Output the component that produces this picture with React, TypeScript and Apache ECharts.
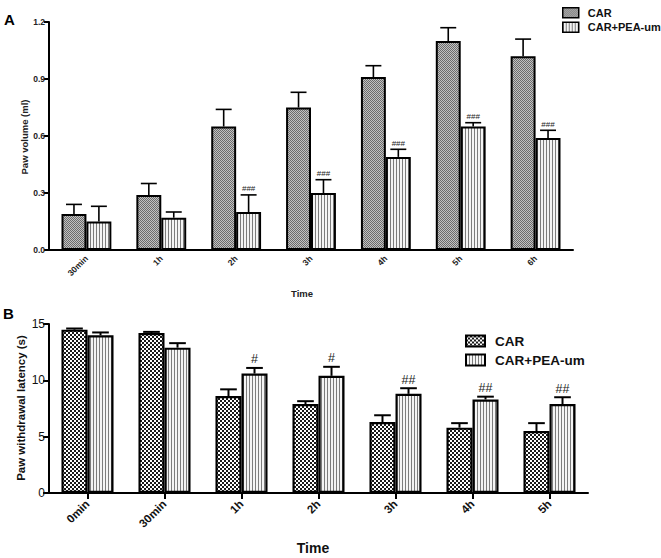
import React, { useEffect, useRef } from 'react';
import * as echarts from 'echarts';

// ---------- Data ----------
const categoriesA = ['30min', '1h', '2h', '3h', '4h', '5h', '6h'];
const carA = [0.19, 0.29, 0.65, 0.75, 0.91, 1.1, 1.02];
const carAErr = [0.05, 0.06, 0.09, 0.08, 0.06, 0.07, 0.09];
const peaA = [0.15, 0.17, 0.2, 0.3, 0.49, 0.65, 0.59];
const peaAErr = [0.08, 0.03, 0.09, 0.07, 0.04, 0.02, 0.04];
const marksA = ['', '', '###', '###', '###', '###', '###'];
const yTicksA = [0, 0.3, 0.6, 0.9, 1.2];

const categoriesB = ['0min', '30min', '1h', '2h', '3h', '4h', '5h'];
const carB = [14.5, 14.2, 8.6, 7.9, 6.3, 5.8, 5.5];
const carBErr = [0.1, 0.1, 0.6, 0.25, 0.6, 0.4, 0.7];
const peaB = [14.0, 12.9, 10.6, 10.4, 8.8, 8.3, 7.9];
const peaBErr = [0.25, 0.4, 0.5, 0.8, 0.5, 0.25, 0.6];
const marksB = ['', '', '#', '#', '##', '##', '##'];
const yTicksB = [0, 5, 10, 15];

const FONT = '"Liberation Sans", Arial, Helvetica, sans-serif';

function makePattern(w: number, h: number, draw: (ctx: CanvasRenderingContext2D) => void) {
  const c = document.createElement('canvas');
  c.width = w;
  c.height = h;
  const ctx = c.getContext('2d') as CanvasRenderingContext2D;
  draw(ctx);
  return { image: c.toDataURL(), repeat: 'repeat', imageWidth: w, imageHeight: h } as any;
}

function errRender(bw: number, side: number, marks: string[] | null, lw: number, fontSize: number) {
  return (params: any, api: any) => {
    const i = api.value(0);
    const v = api.value(1);
    const t = api.value(2);
    const p0 = api.coord([i, v]);
    const p1 = api.coord([i, t]);
    const band = api.size([1, 0])[0];
    const w = band * bw;
    const x = p0[0] + (side * w) / 2;
    const cap = w * 0.32;
    const children: any[] = [
      { type: 'line', shape: { x1: x, y1: p0[1], x2: x, y2: p1[1] }, style: { stroke: '#000', lineWidth: lw } },
      { type: 'line', shape: { x1: x - cap, y1: p1[1], x2: x + cap, y2: p1[1] }, style: { stroke: '#000', lineWidth: lw } },
    ];
    const m = marks ? marks[params.dataIndex] : '';
    if (m) {
      children.push({
        type: 'text',
        x,
        y: p1[1] - 2,
        style: { text: m, align: 'center', verticalAlign: 'bottom', fontSize, fill: '#222', fontFamily: FONT },
      });
    }
    return { type: 'group', children };
  };
}

export default function App() {
  const ref = useRef<HTMLDivElement>(null);

  useEffect(() => {
    document.body.style.margin = '0';
    if (!ref.current) return;
    const chart = echarts.init(ref.current, null, { renderer: 'svg' });

    const patCarA = makePattern(2, 2, (ctx) => {
      ctx.fillStyle = '#c2c2c2';
      ctx.fillRect(0, 0, 2, 2);
      ctx.fillStyle = '#6c6c6c';
      ctx.fillRect(0, 0, 1, 1);
      ctx.fillRect(1, 1, 1, 1);
    });
    const patCarB = makePattern(4, 4, (ctx) => {
      ctx.fillStyle = '#ffffff';
      ctx.fillRect(0, 0, 4, 4);
      ctx.fillStyle = '#1a1a1a';
      ctx.fillRect(0, 0, 2, 2);
      ctx.fillRect(2, 2, 2, 2);
    });
    const patPea = makePattern(3, 2, (ctx) => {
      ctx.fillStyle = '#f4f4f4';
      ctx.fillRect(0, 0, 3, 2);
      ctx.fillStyle = '#7c7c7c';
      ctx.fillRect(0, 0, 1, 2);
    });

    const BWA = 0.333;
    const BWB = 0.338;

    const axisLine = { show: true, lineStyle: { color: '#000', width: 2 } };

    const option: any = {
      animation: false,
      backgroundColor: '#fff',
      grid: [
        { left: 49, top: 22, width: 524, height: 228 },
        { left: 49, top: 324, width: 539, height: 169 },
      ],
      xAxis: [
        {
          type: 'category',
          gridIndex: 0,
          data: categoriesA,
          axisLine,
          axisTick: { show: false },
          axisLabel: { rotate: 45, interval: 0, fontSize: 8.5, fontWeight: 'bold', color: '#222', fontFamily: FONT, margin: 7 },
        },
        {
          type: 'category',
          gridIndex: 1,
          data: categoriesB,
          axisLine,
          axisTick: { show: true, alignWithLabel: true, interval: 0, length: 6, lineStyle: { color: '#000', width: 2 } },
          axisLabel: { rotate: 45, interval: 0, fontSize: 11.5, fontWeight: 'bold', color: '#111', fontFamily: FONT, margin: 9 },
        },
      ],
      yAxis: [
        {
          type: 'value',
          gridIndex: 0,
          min: yTicksA[0],
          max: yTicksA[yTicksA.length - 1],
          interval: 0.3,
          axisLine,
          splitLine: { show: false },
          axisTick: { show: true, length: 5, lineStyle: { color: '#000', width: 2 } },
          axisLabel: { fontSize: 8.5, fontWeight: 'bold', color: '#222', fontFamily: FONT, margin: 4, formatter: (v: number) => v.toFixed(1) },
        },
        {
          type: 'value',
          gridIndex: 1,
          min: yTicksB[0],
          max: yTicksB[yTicksB.length - 1],
          interval: 5,
          axisLine,
          splitLine: { show: false },
          axisTick: { show: true, length: 6, lineStyle: { color: '#000', width: 2 } },
          axisLabel: { fontSize: 12, color: '#111', fontFamily: FONT, margin: 4 },
        },
      ],
      legend: [
        {
          left: 557,
          top: 2,
          orient: 'vertical',
          icon: 'rect',
          itemWidth: 16,
          itemHeight: 10,
          itemGap: 3,
          selectedMode: false,
          textStyle: { fontSize: 11, fontWeight: 'bold', color: '#111', fontFamily: FONT, padding: [0, 0, 0, 4] },
          data: [
            { name: 'CAR', itemStyle: { color: patCarA, borderColor: '#000', borderWidth: 1.5 } },
            { name: 'CAR+PEA-um', itemStyle: { color: patPea, borderColor: '#000', borderWidth: 1.5 } },
          ],
        },
        {
          left: 460,
          top: 329,
          orient: 'vertical',
          icon: 'rect',
          itemWidth: 19,
          itemHeight: 11,
          itemGap: 5,
          selectedMode: false,
          textStyle: { fontSize: 13.5, fontWeight: 'bold', color: '#111', fontFamily: FONT, padding: [0, 0, 0, 5] },
          data: [
            { name: 'CAR', itemStyle: { color: patCarB, borderColor: '#000', borderWidth: 2 } },
            { name: 'CAR+PEA-um', itemStyle: { color: patPea, borderColor: '#000', borderWidth: 2 } },
          ],
        },
      ],
      series: [
        {
          name: 'CAR', type: 'bar', xAxisIndex: 0, yAxisIndex: 0, data: carA,
          barWidth: BWA * 100 + '%', barGap: '0%',
          itemStyle: { color: patCarA, borderColor: '#000', borderWidth: 2 },
        },
        {
          name: 'CAR+PEA-um', type: 'bar', xAxisIndex: 0, yAxisIndex: 0, data: peaA,
          barWidth: BWA * 100 + '%', barGap: '0%',
          itemStyle: { color: patPea, borderColor: '#000', borderWidth: 2 },
        },
        {
          name: 'errCarA', type: 'custom', xAxisIndex: 0, yAxisIndex: 0,
          renderItem: errRender(BWA, -1, null, 1.6, 8),
          encode: { x: 0, y: [1, 2] },
          data: carA.map((v, i) => [i, v, v + carAErr[i]]),
          z: 5,
        },
        {
          name: 'errPeaA', type: 'custom', xAxisIndex: 0, yAxisIndex: 0,
          renderItem: errRender(BWA, 1, marksA, 1.6, 8),
          encode: { x: 0, y: [1, 2] },
          data: peaA.map((v, i) => [i, v, v + peaAErr[i]]),
          z: 5,
        },
        {
          name: 'CAR', type: 'bar', xAxisIndex: 1, yAxisIndex: 1, data: carB,
          barWidth: BWB * 100 + '%', barGap: '0%',
          itemStyle: { color: patCarB, borderColor: '#000', borderWidth: 2.2 },
        },
        {
          name: 'CAR+PEA-um', type: 'bar', xAxisIndex: 1, yAxisIndex: 1, data: peaB,
          barWidth: BWB * 100 + '%', barGap: '0%',
          itemStyle: { color: patPea, borderColor: '#000', borderWidth: 2.2 },
        },
        {
          name: 'errCarB', type: 'custom', xAxisIndex: 1, yAxisIndex: 1,
          renderItem: errRender(BWB, -1, null, 2, 12),
          encode: { x: 0, y: [1, 2] },
          data: carB.map((v, i) => [i, v, v + carBErr[i]]),
          z: 5,
        },
        {
          name: 'errPeaB', type: 'custom', xAxisIndex: 1, yAxisIndex: 1,
          renderItem: errRender(BWB, 1, marksB, 2, 12.5),
          encode: { x: 0, y: [1, 2] },
          data: peaB.map((v, i) => [i, v, v + peaBErr[i]]),
          z: 5,
        },
      ],
      graphic: [
        { type: 'text', left: 4, top: 12, style: { text: 'A', fontSize: 15, fontWeight: 'bold', fill: '#000', fontFamily: FONT } },
        { type: 'text', left: 3, top: 306, style: { text: 'B', fontSize: 15, fontWeight: 'bold', fill: '#000', fontFamily: FONT } },
        {
          type: 'text', x: 302, y: 293,
          style: { text: 'Time', fontSize: 9.5, fontWeight: 'bold', fill: '#222', fontFamily: FONT, align: 'center', verticalAlign: 'middle' },
        },
        {
          type: 'text', x: 24, y: 137, rotation: Math.PI / 2,
          style: { text: 'Paw volume (ml)', fontSize: 9.5, fontWeight: 'bold', fill: '#222', fontFamily: FONT, align: 'center', verticalAlign: 'middle' },
        },
        {
          type: 'text', x: 313, y: 548,
          style: { text: 'Time', fontSize: 14, fontWeight: 'bold', fill: '#111', fontFamily: FONT, align: 'center', verticalAlign: 'middle' },
        },
        {
          type: 'text', x: 21, y: 408, rotation: Math.PI / 2,
          style: { text: 'Paw withdrawal latency (s)', fontSize: 11.5, fontWeight: 'bold', fill: '#111', fontFamily: FONT, align: 'center', verticalAlign: 'middle' },
        },
      ],
    };

    chart.setOption(option);
    return () => {
      chart.dispose();
    };
  }, []);

  return <div ref={ref} style={{ width: 661, height: 558, background: '#fff' }} />;
}
